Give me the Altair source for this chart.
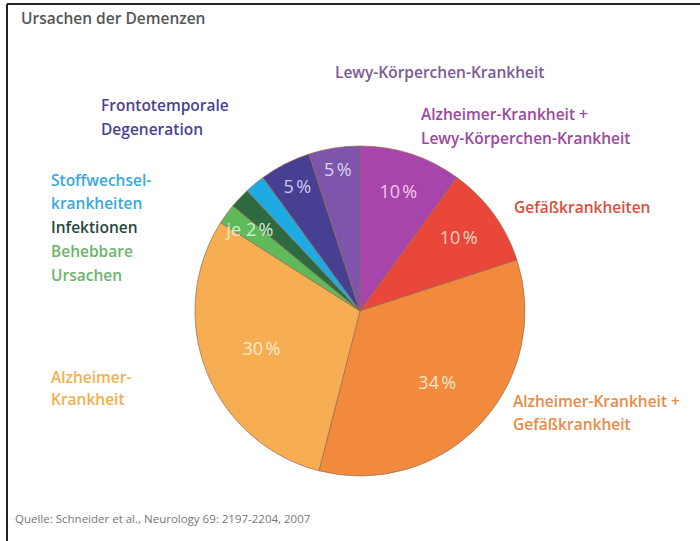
import altair as alt
import pandas as pd

# ---- data ----
categories = [
    "Alzheimer-Krankheit + Lewy-Körperchen-Krankheit",
    "Gefäßkrankheiten",
    "Alzheimer-Krankheit + Gefäßkrankheit",
    "Alzheimer-Krankheit",
    "Behebbare Ursachen",
    "Infektionen",
    "Stoffwechselkrankheiten",
    "Frontotemporale Degeneration",
    "Lewy-Körperchen-Krankheit",
]
values = [10, 10, 34, 30, 2, 2, 2, 5, 5]
pct_texts = ["10\u202f%", "10\u202f%", "34\u202f%", "30\u202f%", "je 2\u202f%", "", "",
             "5\u202f%", "5\u202f%"]

# ---- styles ----
slice_colors = ["#a845aa", "#e8473a", "#f18a3c", "#f7ad52", "#5fba5c",
                "#2d6a40", "#1eaae2", "#463f92", "#7d55ad"]
pct_colors = ["#f2c6ef", "#fbd0c2", "#fde3c8", "#fdeacd", "#d4efd0",
              "#d4efd0", "#d4efd0", "#cfc9f2", "#ddd0f4"]
pct_radius = [124, 122, 106, 106, 136, 0, 0, 138, 142]

label_lines = [
    "Lewy-Körperchen-Krankheit",
    "Alzheimer-Krankheit +", "Lewy-Körperchen-Krankheit",
    "Gefäßkrankheiten",
    "Alzheimer-Krankheit +", "Gefäßkrankheit",
    "Alzheimer-", "Krankheit",
    "Frontotemporale", "Degeneration",
    "Stoffwechsel-", "krankheiten",
    "Infektionen",
    "Behebbare", "Ursachen",
]
label_x = [335, 421, 421, 514, 513, 513, 51, 51, 101, 101, 51, 51, 51, 51, 51]
label_y = [73, 115, 139, 208, 402, 425, 378, 400, 106, 130, 181, 204, 228, 252, 276]
label_colors = ["#7a5a96", "#9c47a0", "#9c47a0", "#dc4e3c", "#ec8a45", "#ec8a45",
                "#f2b04e", "#f2b04e", "#4b4394", "#4b4394", "#3aa8dc", "#3aa8dc",
                "#25483a", "#6cb36c", "#6cb36c"]

CX, CY, R = 360, 311, 165
FONT = "Open Sans"

pie_df = pd.DataFrame({
    "cat": categories,
    "value": values,
    "idx": list(range(len(values))),
    "pct": pct_texts,
    "pcol": pct_colors,
    "r": pct_radius,
})
lab_df = pd.DataFrame({"t": label_lines, "x": label_x, "y": label_y, "c": label_colors})

theta_scale = alt.Scale(domain=[0, 100])

pie = alt.Chart(pie_df).mark_arc(radius=R, stroke="#9a6a50", strokeWidth=0.7).encode(
    theta=alt.Theta("value:Q", stack=True, scale=theta_scale),
    color=alt.Color("cat:N", scale=alt.Scale(domain=categories, range=slice_colors), legend=None),
    order=alt.Order("idx:Q"),
    x=alt.value(CX),
    y=alt.value(CY),
)

pct = alt.Chart(pie_df).transform_window(
    cum="sum(value)", sort=[alt.SortField("idx")], frame=[None, 0]
).transform_calculate(
    mid="datum.cum - datum.value / 2"
).transform_filter("datum.pct != ''").mark_text(
    font=FONT, fontSize=18, align="center", baseline="middle").encode(
    theta=alt.Theta("mid:Q", scale=theta_scale),
    radius=alt.Radius("r:Q", scale=None),
    text="pct:N",
    color=alt.Color("pcol:N", scale=None),
    x=alt.value(CX),
    y=alt.value(CY),
)

labels = alt.Chart(lab_df).mark_text(font=FONT, fontSize=15.5, fontWeight=600, align="left",
                                     baseline="middle").encode(
    x=alt.X("x:Q", scale=None),
    y=alt.Y("y:Q", scale=None),
    text="t:N",
    color=alt.Color("c:N", scale=None),
)

title_df = pd.DataFrame({"t": ["Ursachen der Demenzen"]})
title = alt.Chart(title_df).mark_text(font=FONT, fontSize=15.5, fontWeight=600, color="#555555",
                                      align="left", baseline="middle").encode(
    x=alt.value(21), y=alt.value(19), text="t:N")

src_df = pd.DataFrame({"t": ["Quelle: Schneider et al., Neurology 69: 2197-2204, 2007"]})
source = alt.Chart(src_df).mark_text(font=FONT, fontSize=11.5, color="#777777",
                                     align="left", baseline="middle").encode(
    x=alt.value(15), y=alt.value(520), text="t:N")

frame_top = alt.Chart(title_df).mark_rule(color="#222222", strokeWidth=2).encode(
    x=alt.value(7), x2=alt.value(700), y=alt.value(4))
frame_left = alt.Chart(title_df).mark_rule(color="#222222", strokeWidth=2).encode(
    x=alt.value(7), y=alt.value(4), y2=alt.value(541))

chart = alt.layer(frame_top, frame_left, pie, pct, labels, title, source).properties(
    width=700, height=541,
    autosize=alt.AutoSizeParams(type="none"),
    padding=0,
    background="white",
).configure_view(stroke=None)

chart.save("out.html", embed_options={"renderer": "svg", "actions": False})
